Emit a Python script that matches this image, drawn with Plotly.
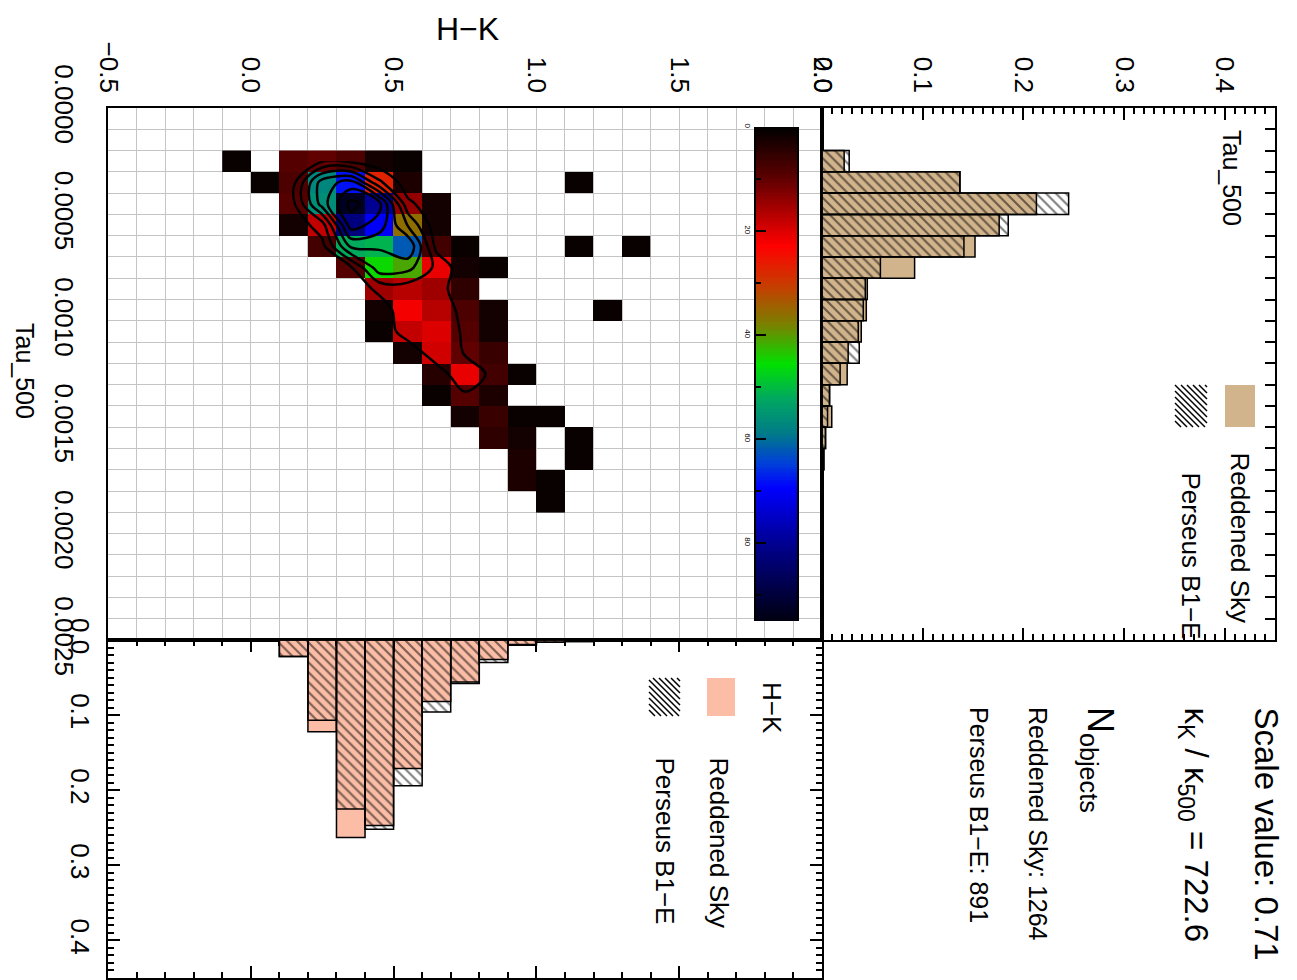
import numpy as np
import plotly.graph_objects as go

# ---------------- data ----------------
N = None
# 2D density (counts) : columns = H-K bin centres, rows = Tau_500 bin centres
hk_centers = [-0.05, 0.05, 0.15, 0.25, 0.35, 0.45, 0.55, 0.65, 0.75, 0.85,
              0.95, 1.05, 1.15, 1.25, 1.35]
tau_centers = [0.00025, 0.00035, 0.00045, 0.00055, 0.00065, 0.00075, 0.00085,
               0.00095, 0.00105, 0.00115, 0.00125, 0.00135, 0.00145, 0.00155,
               0.00165, 0.00175, 0.00185]
density = [
    [1, N, 9, 10, 8, 2, 1, N, N, N, N, N, N, N, N],
    [N, 1, 8, 57, 68, 27, 3, N, N, N, N, N, 1, N, N],
    [N, N, 9, 56, 93, 80, 14, 2, N, N, N, N, N, N, N],
    [N, N, 2, 18, 82, 70, 36, 2, N, N, N, N, N, N, N],
    [N, N, N, 7, 52, 51, 62, 7, 1, N, N, N, 1, N, 1],
    [N, N, N, N, 9, 45, 41, 21, 2, 1, N, N, N, N, N],
    [N, N, N, N, N, 15, 17, 15, 5, N, N, N, N, N, N],
    [N, N, N, N, N, 2, 22, 17, 8, 2, N, N, N, 1, N],
    [N, N, N, N, N, 1, 18, 20, 9, 2, N, N, N, N, N],
    [N, N, N, N, N, N, 2, 19, 10, 6, N, N, N, N, N],
    [N, N, N, N, N, N, N, 4, 21, 7, 1, N, N, N, N],
    [N, N, N, N, N, N, N, 1, 9, 3, N, N, N, N, N],
    [N, N, N, N, N, N, N, N, 2, 6, 1, 1, N, N, N],
    [N, N, N, N, N, N, N, N, N, 5, 2, N, 1, N, N],
    [N, N, N, N, N, N, N, N, N, N, 3, N, 1, N, N],
    [N, N, N, N, N, N, N, N, N, N, 3, 1, N, N, N],
    [N, N, N, N, N, N, N, N, N, N, N, 1, N, N, N],
]

# Tau_500 histogram (normalised)
tau_hist_centers = [0.00025, 0.00035, 0.00045, 0.00055, 0.00065, 0.00075,
                    0.00085, 0.00095, 0.00105, 0.00115, 0.00125, 0.00135,
                    0.00145, 0.00155, 0.00165, 0.00175]
tau_reddened = [0.022, 0.137, 0.213, 0.176, 0.152, 0.092, 0.045, 0.044,
                0.039, 0.026, 0.025, 0.0075, 0.0097, 0.0035, 0.002, 0.001]
tau_perseus = [0.027, 0.137, 0.245, 0.185, 0.141, 0.058, 0.043, 0.041,
               0.036, 0.037, 0.018, 0.0075, 0.0055, 0.0035, 0.0015, 0.001]

# H-K histogram (normalised)
hk_hist_centers = [0.15, 0.25, 0.35, 0.45, 0.55, 0.65, 0.75, 0.85, 0.95,
                   1.05, 1.15, 1.25, 1.35]
hk_reddened = [0.022, 0.122, 0.263, 0.247, 0.171, 0.082, 0.056, 0.026,
               0.007, 0.003, 0.002, 0.001, 0.001]
hk_perseus = [0.022, 0.107, 0.225, 0.252, 0.194, 0.096, 0.058, 0.030,
              0.006, 0.003, 0.002, 0.001, 0.001]

hk_ticks = [-0.5, 0.0, 0.5, 1.0, 1.5, 2.0]
tau_ticks = [0.0, 0.0005, 0.0010, 0.0015, 0.0020, 0.0025]
hist_ticks = [0.0, 0.1, 0.2, 0.3, 0.4]
cbar_ticks = [0, 20, 40, 60, 80]
cbar_min, cbar_max = 0, 95

scale_value = 0.71
kappa_ratio = 722.6
n_reddened = 1264
n_perseus = 891

# ---------------- styling ----------------
PAGE_W, PAGE_H = 1297, 980
OFF = 8                       # default page (body) margin of the HTML page
W, H = PAGE_W - OFF, PAGE_H - OFF
FONT = "Liberation Sans, Arial, Helvetica, sans-serif"
TAN = "#D2B48C"
SALMON = "#FBBDA6"
GRID = "#c4c4c4"

def px(x):
    return (x - OFF) / W

def py(y):
    return 1 - (y - OFF) / H

main_x = [px(108), px(822)]
main_y = [py(640), py(108)]
side_x = [px(822), px(1275)]
bot_y = [py(978), py(640)]
cb_x = [px(756), px(797)]
cb_y = [py(621), py(127)]

colorscale = [
    [0.00, "#000000"], [0.10, "#5a0000"], [0.24, "#ff0000"],
    [0.32, "#c83c00"], [0.40, "#7a8000"], [0.48, "#00e000"],
    [0.55, "#00a860"], [0.62, "#007a88"], [0.68, "#0040d8"],
    [0.73, "#0000ff"], [0.85, "#00008a"], [1.00, "#000010"],
]

fig = go.Figure()

# main 2D density
fig.add_trace(go.Heatmap(
    x=hk_centers, y=tau_centers, z=density, colorscale=colorscale,
    zmin=cbar_min, zmax=cbar_max, showscale=False, hoverongaps=False,
    xaxis="x", yaxis="y"))

dens_filled = [[0 if v is None else v for v in row] for row in density]
fig.add_trace(go.Contour(
    x=hk_centers, y=tau_centers, z=dens_filled,
    contours=dict(coloring="none", start=11, end=90, size=13),
    line=dict(color="black", width=2.5), showscale=False,
    xaxis="x", yaxis="y"))

# colour bar (ramp drawn as heat map on its own axis)
cb_levels = np.linspace(cbar_min, cbar_max, 191)
fig.add_trace(go.Heatmap(
    x=[0], y=cb_levels, z=[[v] for v in cb_levels], colorscale=colorscale,
    zmin=cbar_min, zmax=cbar_max, showscale=False, xaxis="x4", yaxis="y4"))

hatch_pattern = dict(shape="\\", fgcolor="black", bgcolor="rgba(0,0,0,0)",
                     size=7, solidity=0.3, fillmode="overlay")

# Tau histogram (side)
fig.add_trace(go.Bar(
    orientation="h", y=tau_hist_centers, x=tau_reddened, width=0.0001,
    marker=dict(color=TAN, line=dict(color="black", width=1.5)),
    xaxis="x2", yaxis="y2", name="Reddened Sky"))
fig.add_trace(go.Bar(
    orientation="h", y=tau_hist_centers, x=tau_perseus, width=0.0001,
    marker=dict(color="rgba(0,0,0,0)", line=dict(color="black", width=1.5),
                pattern=hatch_pattern),
    xaxis="x2", yaxis="y2", name="Perseus B1-E"))

# H-K histogram (bottom)
fig.add_trace(go.Bar(
    x=hk_hist_centers, y=hk_reddened, width=0.1,
    marker=dict(color=SALMON, line=dict(color="black", width=1.5)),
    xaxis="x3", yaxis="y3", name="Reddened Sky"))
fig.add_trace(go.Bar(
    x=hk_hist_centers, y=hk_perseus, width=0.1,
    marker=dict(color="rgba(0,0,0,0)", line=dict(color="black", width=1.5),
                pattern=hatch_pattern),
    xaxis="x3", yaxis="y3", name="Perseus B1-E"))

tickfont = dict(family=FONT, size=26, color="black")
line_kw = dict(showline=True, linecolor="black", linewidth=2, zeroline=False,
               automargin=False)

layout = dict(
    template="none",
    width=W, height=H, margin=dict(l=0, r=0, t=0, b=0, autoexpand=False),
    paper_bgcolor="white", plot_bgcolor="white",
    showlegend=False, barmode="overlay",
    font=dict(family=FONT, color="black"),
    xaxis=dict(domain=main_x, anchor="y", range=[-0.5, 2.0], side="top",
               tickmode="array", tickvals=hk_ticks, tickformat=".1f",
               tickangle=90, tickfont=tickfont, ticks="", ticklabelstandoff=4,
               showgrid=True, gridcolor=GRID, gridwidth=1,
               minor=dict(dtick=0.1, tick0=0, showgrid=True, gridcolor=GRID, gridwidth=1),
               mirror=True, layer="above traces", **line_kw),
    yaxis=dict(domain=main_y, anchor="x", range=[0.0025, 0],
               tickmode="array", tickvals=tau_ticks, tickformat=".4f",
               tickangle=90, tickfont=tickfont, ticks="", ticklabelstandoff=20,
               showgrid=True, gridcolor=GRID, gridwidth=1,
               minor=dict(dtick=0.0001, tick0=0, showgrid=True, gridcolor=GRID, gridwidth=1),
               mirror=True, layer="above traces", **line_kw),
    xaxis2=dict(domain=side_x, anchor="y2", range=[0, 0.45], side="top",
                tickmode="array", tickvals=hist_ticks, tickformat=".1f",
                tickangle=90, tickfont=tickfont, ticks="inside", ticklen=12,
                tickwidth=1.5, tickcolor="black", ticklabelstandoff=4,
                minor=dict(dtick=0.01, tick0=0, ticks="inside", ticklen=6, tickcolor="black"),
                showgrid=False, mirror="ticks", **line_kw),
    yaxis2=dict(domain=main_y, anchor="x2", range=[0.0025, 0], side="right",
                showticklabels=False, ticks="inside", dtick=0.0001, tick0=0,
                ticklen=10, tickwidth=1.5, tickcolor="black",
                showgrid=False, mirror=True, **line_kw),
    xaxis3=dict(domain=main_x, anchor="y3", range=[-0.5, 2.0],
                showticklabels=False, ticks="inside", dtick=0.5, tick0=-0.5,
                ticklen=12, tickwidth=1.5, tickcolor="black",
                minor=dict(dtick=0.1, tick0=0, ticks="inside", ticklen=6, tickcolor="black"),
                showgrid=False, mirror="ticks", **line_kw),
    yaxis3=dict(domain=bot_y, anchor="x3", range=[0.45, 0],
                tickmode="array", tickvals=hist_ticks, tickformat=".1f",
                tickangle=90, tickfont=tickfont, ticks="inside", ticklen=12,
                tickwidth=1.5, tickcolor="black", ticklabelstandoff=4,
                minor=dict(dtick=0.01, tick0=0, ticks="inside", ticklen=6, tickcolor="black"),
                showgrid=False, mirror="ticks", **line_kw),
    xaxis4=dict(domain=cb_x, anchor="y4", range=[-0.5, 0.5], visible=False,
                automargin=False),
    yaxis4=dict(domain=cb_y, anchor="x4", range=[cbar_max, cbar_min],
                tickmode="array", tickvals=cbar_ticks, tickangle=90,
                tickfont=dict(family=FONT, size=8, color="black"),
                ticks="inside", ticklen=10, tickwidth=1.5, tickcolor="black",
                minor=dict(dtick=10, tick0=0, ticks="inside", ticklen=5, tickcolor="black"),
                showgrid=False, showline=True, linecolor="black", linewidth=1.5,
                mirror=True, zeroline=False, layer="above traces", automargin=False),
)
fig.update_layout(**layout)

# ---------------- annotations ----------------
ann = []

def text(x, y, s, size, angle=90, xanchor="center", yanchor="middle"):
    ann.append(dict(x=px(x), y=py(y), xref="paper", yref="paper", text=s,
                    showarrow=False, textangle=angle, xanchor=xanchor,
                    yanchor=yanchor, font=dict(family=FONT, size=size, color="black")))

text(467, 29, "H\u2212K", 32, angle=0)
text(25, 371, "Tau_500", 25)
text(1232, 128, "Tau_500", 25, yanchor="top")
text(1240, 450, "Reddened Sky", 26, yanchor="top")
text(1191, 470, "Perseus B1\u2212E", 26, yanchor="top")
text(772, 680, "H\u2212K", 26, yanchor="top")
text(719, 755, "Reddened Sky", 26, yanchor="top")
text(665, 755, "Perseus B1\u2212E", 26, yanchor="top")
text(1266, 705, f"Scale value: {scale_value}", 33, yanchor="top")
text(1194, 705, f"\u03ba<sub>K</sub> / \u03ba<sub>500</sub> = {kappa_ratio}", 33, yanchor="top")
text(1098, 705, "N<sub>objects</sub>", 36, yanchor="top")
text(1038, 705, f"Reddened Sky: {n_reddened}", 25, yanchor="top")
text(979, 705, f"Perseus B1\u2212E: {n_perseus}", 25, yanchor="top")

# ---------------- legend swatches ----------------
shapes = []

def rect(x0, y0, x1, y1, color):
    shapes.append(dict(type="rect", xref="paper", yref="paper",
                       x0=px(x0), x1=px(x1), y0=py(y1), y1=py(y0),
                       fillcolor=color, line=dict(width=0)))

def hatch(x0, y0, x1, y1, step=6):
    w, h = x1 - x0, y1 - y0
    path = ""
    c = -h
    while c < w:
        lo = max(0, -c)
        hi = min(h, w - c)
        if hi > lo:
            xa, ya = x0 + c + lo, y0 + lo
            xb, yb = x0 + c + hi, y0 + hi
            path += f"M{px(xa)},{py(ya)} L{px(xb)},{py(yb)} "
        c += step
    shapes.append(dict(type="path", xref="paper", yref="paper", path=path,
                       line=dict(color="black", width=1.5)))

rect(1225, 385, 1255, 427, TAN)
hatch(1175, 385, 1207, 427)
rect(707, 678, 735, 716, SALMON)
hatch(649, 678, 680, 716)

fig.update_layout(annotations=ann, shapes=shapes)
fig.write_html("out.html")
